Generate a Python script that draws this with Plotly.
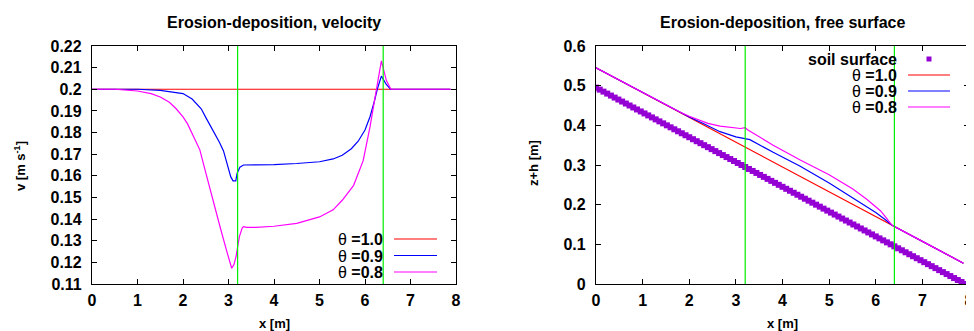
import plotly.graph_objects as go

# ---------------- data ----------------
x_ticks = [0, 1, 2, 3, 4, 5, 6, 7, 8]
x_tick_text = ["0", "1", "2", "3", "4", "5", "6", "7", "8"]
v_ticks = [0.11, 0.12, 0.13, 0.14, 0.15, 0.16, 0.17, 0.18, 0.19, 0.20, 0.21, 0.22]
v_tick_text = ["0.11", "0.12", "0.13", "0.14", "0.15", "0.16", "0.17", "0.18", "0.19", "0.2", "0.21", "0.22"]
zh_ticks = [0, 0.1, 0.2, 0.3, 0.4, 0.5, 0.6]
zh_tick_text = ["0", "0.1", "0.2", "0.3", "0.4", "0.5", "0.6"]
vlines_x = [3.2, 6.4]

series_names = ["θ =1.0", "θ =0.9", "θ =0.8"]

# velocity panel
v10_x = [0, 1, 2, 3, 4, 5, 6, 7, 7.88]
v10_v = [0.2, 0.2, 0.2, 0.2, 0.2, 0.2, 0.2, 0.2, 0.2]

v09_x = [0, 1.0, 1.5, 1.8, 2.0, 2.2, 2.4, 2.5, 2.7, 2.8, 2.89, 2.95, 3.0, 3.05, 3.1, 3.16,
         3.19, 3.25, 3.33, 3.5, 4.0, 4.5, 5.0, 5.3, 5.5, 5.7, 5.85, 6.0, 6.11, 6.2, 6.27,
         6.36, 6.46, 6.56, 7.0, 7.88]
v09_v = [0.2, 0.2, 0.1995, 0.1988, 0.198, 0.1955, 0.191, 0.187, 0.1795, 0.1755, 0.1715, 0.167,
         0.1627, 0.1595, 0.1577, 0.1577, 0.1612, 0.164, 0.165, 0.165, 0.1652, 0.1657, 0.1665,
         0.1678, 0.1695, 0.1725, 0.176, 0.1812, 0.1873, 0.194, 0.2, 0.2061, 0.2025, 0.2, 0.2, 0.2]

v08_x = [0, 0.5, 1.0, 1.3, 1.5, 1.7, 1.85, 2.0, 2.1, 2.23, 2.37, 2.5, 2.67, 2.82, 2.95, 3.07,
         3.12, 3.165, 3.2, 3.24, 3.3, 3.33, 3.4, 3.6, 4.0, 4.5, 5.0, 5.3, 5.5, 5.75, 5.96,
         6.11, 6.26, 6.36, 6.47, 6.57, 7.0, 7.5, 7.88]
v08_v = [0.2, 0.2, 0.1992, 0.198, 0.1964, 0.194, 0.191, 0.1872, 0.184, 0.178, 0.172, 0.1615,
         0.1473, 0.136, 0.126, 0.1173, 0.119, 0.1226, 0.127, 0.1319, 0.1358, 0.1365, 0.1362,
         0.1362, 0.1367, 0.138, 0.141, 0.1443, 0.1487, 0.1556, 0.167, 0.1826, 0.201, 0.2131,
         0.204, 0.2, 0.2, 0.2, 0.2]

# free-surface panel
soil_x = [0.00, 0.08, 0.16, 0.24, 0.32, 0.40, 0.48, 0.56, 0.64, 0.72,
          0.80, 0.88, 0.96, 1.04, 1.12, 1.20, 1.28, 1.36, 1.44, 1.52,
          1.60, 1.68, 1.76, 1.84, 1.92, 2.00, 2.08, 2.16, 2.24, 2.32,
          2.40, 2.48, 2.56, 2.64, 2.72, 2.80, 2.88, 2.96, 3.04, 3.12,
          3.20, 3.28, 3.36, 3.44, 3.52, 3.60, 3.68, 3.76, 3.84, 3.92,
          4.00, 4.08, 4.16, 4.24, 4.32, 4.40, 4.48, 4.56, 4.64, 4.72,
          4.80, 4.88, 4.96, 5.04, 5.12, 5.20, 5.28, 5.36, 5.44, 5.52,
          5.60, 5.68, 5.76, 5.84, 5.92, 6.00, 6.08, 6.16, 6.24, 6.32,
          6.40, 6.48, 6.56, 6.64, 6.72, 6.80, 6.88, 6.96, 7.04, 7.12,
          7.20, 7.28, 7.36, 7.44, 7.52, 7.60, 7.68, 7.76, 7.84, 7.92]
soil_z = [0.495, 0.490, 0.485, 0.480, 0.475, 0.470, 0.465, 0.460, 0.455, 0.450,
          0.445, 0.440, 0.435, 0.430, 0.425, 0.420, 0.415, 0.410, 0.405, 0.400,
          0.395, 0.390, 0.385, 0.380, 0.375, 0.370, 0.365, 0.360, 0.355, 0.350,
          0.345, 0.340, 0.335, 0.330, 0.325, 0.320, 0.315, 0.310, 0.305, 0.300,
          0.295, 0.290, 0.285, 0.280, 0.275, 0.270, 0.265, 0.260, 0.255, 0.250,
          0.245, 0.240, 0.235, 0.230, 0.225, 0.220, 0.215, 0.210, 0.205, 0.200,
          0.195, 0.190, 0.185, 0.180, 0.175, 0.170, 0.165, 0.160, 0.155, 0.150,
          0.145, 0.140, 0.135, 0.130, 0.125, 0.120, 0.115, 0.110, 0.105, 0.100,
          0.095, 0.090, 0.085, 0.080, 0.075, 0.070, 0.065, 0.060, 0.055, 0.050,
          0.045, 0.040, 0.035, 0.030, 0.025, 0.020, 0.015, 0.010, 0.005, 0.000]

fs10_x = [0, 1, 2, 3, 4, 5, 6, 7, 7.88]
fs10_z = [0.545, 0.4825, 0.42, 0.3575, 0.295, 0.2325, 0.17, 0.1075, 0.0525]

fs09_x = [0, 1, 1.8, 2.0, 2.3, 2.66, 3.0, 3.2, 3.3, 3.8, 4.38, 5.0, 5.5, 6.0, 6.2, 6.35, 7.0, 7.88]
fs09_z = [0.545, 0.4825, 0.4325, 0.421, 0.4045, 0.384, 0.371, 0.367, 0.364, 0.332, 0.297,
          0.2545, 0.218, 0.180, 0.1625, 0.148, 0.1075, 0.0525]

fs08_x = [0, 1, 1.8, 2.0, 2.2, 2.4, 2.66, 2.9, 3.1, 3.2, 3.25, 3.8, 4.38, 5.0, 5.5, 5.8, 6.0,
          6.1, 6.2, 6.3, 6.35, 7.0, 7.88]
fs08_z = [0.545, 0.4825, 0.4335, 0.423, 0.413, 0.405, 0.398, 0.394, 0.392, 0.394, 0.389, 0.350,
          0.3126, 0.2755, 0.2402, 0.2145, 0.196, 0.1848, 0.1705, 0.156, 0.148, 0.1075, 0.0525]

# ---------------- style ----------------
# the page body has an 8px default margin, so the figure is sized to fill the rest
OFF = 8
W, H = 974 - OFF, 331 - OFF
FONT = "Liberation Sans"
COLORS = ["#ff0000", "#0000ff", "#ff00ff"]
SOIL = "#9400d3"
GREEN = "#00ee00"
LW = 1.2


def px(xp):
    return (xp - OFF) / W


def py(yp):
    return 1 - (yp - OFF) / H


fig = go.Figure()

# left panel traces
for xs, ys, c in [(v10_x, v10_v, COLORS[0]), (v09_x, v09_v, COLORS[1]), (v08_x, v08_v, COLORS[2])]:
    fig.add_trace(go.Scatter(x=xs, y=ys, mode="lines", line=dict(color=c, width=LW),
                             xaxis="x", yaxis="y", showlegend=False, hoverinfo="skip"))

# right panel traces
fig.add_trace(go.Scatter(x=soil_x, y=soil_z, mode="markers",
                         marker=dict(symbol="square", size=6, color=SOIL, line=dict(width=0)),
                         xaxis="x2", yaxis="y2", showlegend=False, hoverinfo="skip"))
for xs, ys, c in [(fs10_x, fs10_z, COLORS[0]), (fs09_x, fs09_z, COLORS[1]), (fs08_x, fs08_z, COLORS[2])]:
    fig.add_trace(go.Scatter(x=xs, y=ys, mode="lines", line=dict(color=c, width=LW),
                             xaxis="x2", yaxis="y2", showlegend=False, hoverinfo="skip"))

shapes = []
for xr, yr in [("x", "y domain"), ("x2", "y2 domain")]:
    for xv in vlines_x:
        shapes.append(dict(type="line", xref=xr, yref=yr, x0=xv, x1=xv, y0=0, y1=1,
                           line=dict(color=GREEN, width=1.2), layer="above"))

annotations = []
tick_font = dict(family=FONT, size=16, color="black", weight="bold")


def ann(text, xp, yp, size=16, xanchor="center", angle=0, height=None):
    a = dict(text=text, x=px(xp), y=py(yp), xref="paper", yref="paper",
             showarrow=False, xanchor=xanchor, yanchor="middle",
             textangle=angle, borderpad=0,
             font=dict(family=FONT, size=size, color="black"))
    if height:
        a["height"] = height
    annotations.append(a)


# titles
ann("<b>Erosion-deposition, velocity</b>", 274, 23)
ann("<b>Erosion-deposition, free surface</b>", 782, 23)
# axis titles
ann("<b>x [m]</b>", 274, 323, size=13)
ann("<b>x [m]</b>", 782, 323, size=13)
ann("<b>v [m s<sup>-1</sup>]</b>", 20, 166, size=13, angle=-90)
ann("<b>z+h [m]</b>", 533, 163, size=13, angle=-90)

# left legend
left_rows = [239, 255.5, 272]
for name, c, yr in zip(series_names, COLORS, left_rows):
    t, rest = name.split(" ", 1)
    ann(t + " <b>" + rest + "</b>", 384, yr, xanchor="right", height=14)
    shapes.append(dict(type="line", xref="paper", yref="paper", x0=px(394), x1=px(437),
                       y0=py(yr), y1=py(yr), line=dict(color=c, width=LW)))

# right legend
ann("<b>soil surface</b>", 898, 59, xanchor="right", height=14)
shapes.append(dict(type="rect", xref="paper", yref="paper", x0=px(926.5), x1=px(931.5),
                   y0=py(61.5), y1=py(56.5), fillcolor=SOIL, line=dict(width=0)))
right_rows = [75, 91, 107]
for name, c, yr in zip(series_names, COLORS, right_rows):
    t, rest = name.split(" ", 1)
    ann(t + " <b>" + rest + "</b>", 898, yr, xanchor="right", height=14)
    shapes.append(dict(type="line", xref="paper", yref="paper", x0=px(908), x1=px(950),
                       y0=py(yr), y1=py(yr), line=dict(color=c, width=LW)))

axis_common = dict(showline=True, linecolor="black", linewidth=1.3, mirror="ticks",
                   ticks="inside", ticklen=5, tickwidth=1, tickcolor="black",
                   showgrid=False, zeroline=False, tickfont=tick_font, automargin=False)

ydom = [py(284), py(46)]
fig.update_layout(
    width=W, height=H,
    margin=dict(l=0, r=0, t=0, b=0, autoexpand=False),
    paper_bgcolor="white", plot_bgcolor="white",
    showlegend=False,
    xaxis=dict(domain=[px(92), px(456)], range=[0, 8], tickmode="array",
               tickvals=x_ticks, ticktext=x_tick_text, anchor="y",
               ticklabelstandoff=2, **axis_common),
    yaxis=dict(domain=ydom, range=[0.11, 0.22], tickmode="array",
               tickvals=v_ticks, ticktext=v_tick_text, anchor="x",
               ticklabelstandoff=6, **axis_common),
    xaxis2=dict(domain=[px(596), px(969)], range=[0, 8], tickmode="array",
                tickvals=x_ticks, ticktext=x_tick_text, anchor="y2",
                ticklabelstandoff=2, **axis_common),
    yaxis2=dict(domain=ydom, range=[0, 0.6], tickmode="array",
                tickvals=zh_ticks, ticktext=zh_tick_text, anchor="x2",
                ticklabelstandoff=6, **axis_common),
    shapes=shapes,
    annotations=annotations,
)

fig.write_html("out.html")
